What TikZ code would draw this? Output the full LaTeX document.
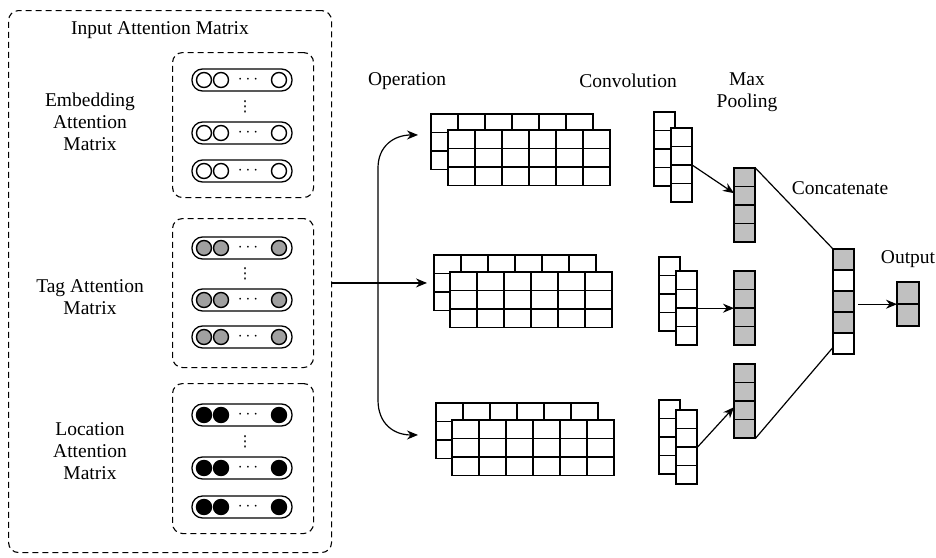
\documentclass[tikz,border=0pt]{standalone}
\usepackage{fontspec}
\setmainfont{Liberation Serif}
\newfontfamily\labelfont{Liberation Serif}
\newfontfamily\glyphfont{DejaVu Sans}
\usetikzlibrary{arrows.meta,calc}

\definecolor{cellgray}{RGB}{192,192,192}
\definecolor{dotgray}{RGB}{160,160,160}

\tikzset{
  lbl/.style={font=\labelfont\fontsize{19.5}{22}\selectfont, align=center, inner sep=0pt},
  dashbox/.style={draw, dash pattern=on 6pt off 4pt, rounded corners=10pt, line width=1.1pt,
                  inner sep=0pt, anchor=north west},
  pill/.style={draw, line width=1.3pt, rounded corners=10.5pt, minimum width=100pt,
               minimum height=22pt, inner sep=0pt},
  bead/.style={circle, draw, line width=1.4pt, minimum size=15pt, inner sep=0pt},
  ellip/.style={inner sep=0pt, font=\fontsize{18}{18}\selectfont},
  vellip/.style={inner sep=0pt, font=\glyphfont\fontsize{15}{15}\selectfont},
  gridlayer/.style={inner sep=0pt, anchor=north west},
  cellbox/.style={draw, line width=1.2pt},
  arr/.style={line width=1.2pt, -{Stealth[length=11pt,width=9pt]}},
  link/.style={line width=1.2pt},
}

% grid of cells: x, y (top-left), cols, rows, cell width, cell height, fill
\newcommand\gridcells[7]{%
  \foreach \c in {1,...,#3}{\foreach \r in {1,...,#4}{%
    \draw[cellbox, fill=#7] ({#1+(\c-1)*#5},{#2+(\r-1)*#6}) rectangle ++(#5,#6);}}}

% one layer: name, x, y, cols, rows, cell width, cell height, fill
\newcommand\gridlayernode[8]{%
  \node[gridlayer, minimum width={#4*#6*1pt}, minimum height={#5*#7*1pt}] (#1) at (#2,#3) {};
  \gridcells{#2}{#3}{#4}{#5}{#6}{#7}{#8}}

% one row of beads inside a rounded bar: name, y, fill
\newcommand\beadrow[3]{%
  \node[pill] (#1) at (242,#2) {};
  \node[bead, fill=#3] (#1-a) at (204,#2) {};
  \node[bead, fill=#3] (#1-b) at (221,#2) {};
  \node[ellip] (#1-d) at (248,#2) {$\cdots$};
  \node[bead, fill=#3] (#1-c) at (279,#2) {};}

\begin{document}
\begin{tikzpicture}[x=1pt,y=-1pt]
\useasboundingbox (0,0) rectangle (936,557);

% ---- input attention matrices ----
\node[dashbox, minimum width=323pt, minimum height=542pt] (inputbox) at (8,10) {};
\node[lbl] (inputtitle) at (160,30) {Input Attention Matrix};

\node[dashbox, minimum width=141pt, minimum height=145pt] (embbox) at (172,52) {};
\node[dashbox, minimum width=141pt, minimum height=149pt] (tagbox) at (172,218) {};
\node[dashbox, minimum width=141pt, minimum height=150pt] (locbox) at (172,383) {};

\node[lbl] (embtitle) at (90,122) {Embedding\\Attention\\Matrix};
\node[lbl] (tagtitle) at (90,297) {Tag Attention\\Matrix};
\node[lbl] (loctitle) at (90,451) {Location\\Attention\\Matrix};

\beadrow{embA}{80}{white}
\beadrow{embB}{133}{white}
\beadrow{embC}{171}{white}
\node[vellip] (embdots) at (245,107) {⋮};

\beadrow{tagA}{248}{dotgray}
\beadrow{tagB}{300}{dotgray}
\beadrow{tagC}{337}{dotgray}
\node[vellip] (tagdots) at (245,274) {⋮};

\beadrow{locA}{415}{black}
\beadrow{locB}{468}{black}
\beadrow{locC}{507}{black}
\node[vellip] (locdots) at (245,442) {⋮};

% ---- column labels ----
\node[lbl] (oplabel) at (407,81) {Operation};
\node[lbl] (convlabel) at (628,81) {Convolution};
\node[lbl] (poollabel) at (747,92) {Max\\Pooling};
\node[lbl] (catlabel) at (840,188) {Concatenate};
\node[lbl] (outlabel) at (908,259) {Output};

% ---- operation matrices (two stacked layers each) ----
\gridlayernode{opA-back}{431}{114}{6}{3}{27}{18.5}{white}
\gridlayernode{opA-front}{448}{130}{6}{3}{27}{18.5}{white}
\gridlayernode{opB-back}{434}{255}{6}{3}{27}{18.5}{white}
\gridlayernode{opB-front}{450}{272}{6}{3}{27}{18.5}{white}
\gridlayernode{opC-back}{436}{403}{6}{3}{27}{18.5}{white}
\gridlayernode{opC-front}{452}{420}{6}{3}{27}{18.5}{white}

% ---- convolution filters ----
\gridlayernode{cvA-back}{654}{112}{1}{4}{21}{18.5}{white}
\gridlayernode{cvA-front}{671}{128}{1}{4}{21}{18.5}{white}
\gridlayernode{cvB-back}{659}{257}{1}{4}{21}{18.5}{white}
\gridlayernode{cvB-front}{676}{271}{1}{4}{21}{18.5}{white}
\gridlayernode{cvC-back}{659}{400}{1}{4}{21}{18.5}{white}
\gridlayernode{cvC-front}{676}{410}{1}{4}{21}{18.5}{white}

% ---- max pooling ----
\gridlayernode{poolA}{734}{168}{1}{4}{21}{18.5}{cellgray}
\gridlayernode{poolB}{734}{271}{1}{4}{21}{18.5}{cellgray}
\gridlayernode{poolC}{734}{364}{1}{4}{21}{18.5}{cellgray}

% ---- concatenation ----
\node[gridlayer, minimum width=21pt, minimum height=105pt] (concat) at (833,249) {};
\draw[cellbox, fill=cellgray] (833,249) rectangle ++(21,21);
\draw[cellbox, fill=white]    (833,270) rectangle ++(21,21);
\draw[cellbox, fill=cellgray] (833,291) rectangle ++(21,21);
\draw[cellbox, fill=cellgray] (833,312) rectangle ++(21,21);
\draw[cellbox, fill=white]    (833,333) rectangle ++(21,21);

% ---- output ----
\gridlayernode{outnode}{897}{282}{1}{2}{22}{22}{cellgray}

% ---- connectors ----
\coordinate (split) at (378,282.75);
\coordinate (tipA) at ([xshift=-13pt,yshift=7pt]opA-back.west);
\coordinate (tipC) at ([xshift=-18pt,yshift=-4pt]opC-back.west);

\draw[arr, shorten >=7pt] (opB-back.west -| inputbox.east) -- (opB-back.west);
\draw[arr] (split) -- (378,168) .. controls (378,146) and (394,135) .. (tipA);
\draw[arr] (split) -- (378,400) .. controls (378,424) and (394,435) .. (tipC);

\draw[arr] (cvA-front.east) -- ([yshift=12pt]poolA.west);
\draw[arr] (cvB-front.east) -- (poolB.west);
\draw[arr] (cvC-front.east) -- ([yshift=-6pt]poolC.west);

\draw[link] (poolA.north east) -- (concat.north west);
\draw[link] (poolC.south east) -- ([yshift=7pt]concat.south west);

\draw[arr, shorten <=4pt] (concat.east |- outnode.west) -- (outnode.west);
\end{tikzpicture}
\end{document}
